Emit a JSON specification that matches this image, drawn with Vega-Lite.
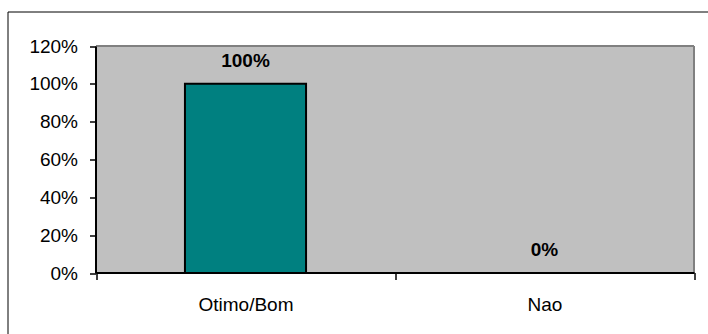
{
  "$schema": "https://vega.github.io/schema/vega-lite/v6.json",
  "width": 705,
  "height": 325,
  "autosize": "none",
  "padding": {"left": 7.5, "top": 11.5, "right": 0, "bottom": 0},
  "background": "white",
  "config": {
    "font": "Liberation Sans",
    "view": {"stroke": "#000000", "strokeWidth": 1, "fill": "white"}
  },
  "data": {
    "values": [
      {"categoria": "Otimo/Bom", "pct": 1.0},
      {"categoria": "Nao", "pct": 0.0}
    ]
  },
  "encoding": {
    "x": {
      "field": "categoria",
      "type": "nominal",
      "sort": null,
      "scale": {"range": [88.5, 686.5], "paddingInner": 0, "paddingOuter": 0},
      "axis": {
        "orient": "bottom",
        "offset": -64,
        "title": null,
        "labelAngle": 0,
        "tickBand": "extent",
        "tickSize": 7,
        "tickColor": "#000000",
        "tickWidth": 1.5,
        "domainColor": "#000000",
        "domainWidth": 2,
        "labelFont": "Liberation Sans",
        "labelFontSize": 19,
        "labelColor": "#000000",
        "labelPadding": 16,
        "zindex": 1
      }
    }
  },
  "layer": [
    {
      "mark": {"type": "bar", "fill": "#c0c0c0", "width": {"band": 1}},
      "encoding": {
        "y": {
          "datum": 0,
          "type": "quantitative",
          "scale": {"domain": [0, 1.2], "range": [261.5, 34.5], "nice": false, "zero": true},
          "axis": {
            "orient": "left",
            "offset": -88,
            "title": null,
            "values": [0, 0.2, 0.4, 0.6, 0.8, 1, 1.2],
            "format": ".0%",
            "grid": false,
            "tickSize": 6,
            "tickColor": "#000000",
            "tickWidth": 1.5,
            "domainColor": "#000000",
            "domainWidth": 2,
            "labelFont": "Liberation Sans",
            "labelFontSize": 19,
            "labelColor": "#000000",
            "labelPadding": 12,
            "zindex": 1
          }
        },
        "y2": {"datum": 1.2}
      }
    },
    {
      "mark": {"type": "tick", "color": "#808080", "thickness": 2, "size": 299, "opacity": 1},
      "encoding": {
        "y": {"datum": 1.2, "type": "quantitative"}
      }
    },
    {
      "mark": {"type": "rule", "color": "#808080", "strokeWidth": 2},
      "encoding": {
        "x": {"datum": "Nao", "bandPosition": 1},
        "y": {"datum": 0, "type": "quantitative"},
        "y2": {"datum": 1.2}
      }
    },
    {
      "mark": {"type": "bar", "fill": "#008080", "stroke": "#000000", "strokeWidth": 2, "width": {"band": 0.405}},
      "encoding": {
        "y": {"field": "pct", "type": "quantitative"}
      }
    },
    {
      "mark": {"type": "text", "fontWeight": "bold", "fontSize": 19, "color": "#000000", "baseline": "alphabetic", "dy": -17},
      "encoding": {
        "y": {"field": "pct", "type": "quantitative"},
        "text": {"field": "pct", "type": "quantitative", "format": ".0%"}
      }
    }
  ]
}
